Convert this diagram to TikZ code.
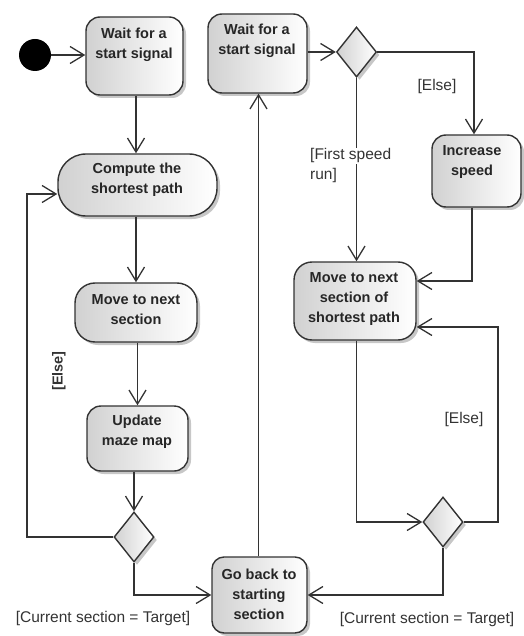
\documentclass[tikz,border=0pt]{standalone}
\usepackage{fontspec}
\setmainfont{Liberation Sans}
\usetikzlibrary{arrows.meta,shapes.geometric,shadows}
\tikzset{
  box/.style={draw=black!80, line width=1.4pt, left color=black!18, right color=white,
    drop shadow={shadow xshift=3pt, shadow yshift=-3pt, fill=black!40, opacity=0.55},
    inner sep=0pt},
  dec/.style={box, diamond, minimum width=40pt, minimum height=50pt},
  btxt/.style={font=\bfseries\fontsize{14.5}{20}\selectfont, align=center, inner sep=0pt, text=black!85},
  lbl/.style={font=\fontsize{15.5}{20}\selectfont, inner sep=0pt, text=black!80},
  arr/.style={draw=black!80, line width=1.4pt, -{Straight Barb[length=14pt,width=17pt,line width=1.3pt]}},
  ln/.style={draw=black!80, line width=1.4pt}
}
\begin{document}
\begin{tikzpicture}[x=1pt,y=-1pt]
\useasboundingbox (0,0) rectangle (523,636);
% initial node
\node[circle, fill=black, minimum size=32pt, inner sep=0pt] (init) at (35,55) {};
% left column
\node[box, rounded corners=14pt, minimum width=97pt, minimum height=78pt] (w1) at (134.5,56) {};
\node[btxt] (w1t) at (134,45) {Wait for a\\start signal};
\node[box, rounded corners=28pt, minimum width=159pt, minimum height=62pt] (cp) at (137.5,185) {};
\node[btxt] (cpt) at (137,180) {Compute the\\shortest path};
\node[box, rounded corners=20pt, minimum width=122pt, minimum height=59pt] (mv) at (136,312.5) {};
\node[btxt] (mvt) at (136,310) {Move to next\\section};
\node[box, rounded corners=14pt, minimum width=101pt, minimum height=65pt] (up) at (137.5,438.5) {};
\node[btxt] (upt) at (137,432) {Update\\maze map};
\node[dec] (d1) at (134,537) {};
% middle
\node[box, rounded corners=12pt, minimum width=95pt, minimum height=76pt] (gb) at (259.5,595) {};
\node[btxt] (gbt) at (259,594) {Go back to\\starting\\section};
\node[box, rounded corners=14pt, minimum width=99pt, minimum height=79pt] (w2) at (257.5,53.5) {};
\node[btxt] (w2t) at (257,41) {Wait for a\\start signal};
\node[dec] (d2) at (356.5,52) {};
% right
\node[box, rounded corners=14pt, minimum width=89pt, minimum height=72pt] (inc) at (476.5,171) {};
\node[btxt] (inct) at (472,162) {Increase\\speed};
\node[box, rounded corners=18pt, minimum width=122pt, minimum height=78pt] (mn) at (355,301) {};
\node[btxt] (mnt) at (354,299) {Move to next\\section of\\shortest path};
\node[dec] (d3) at (443,522) {};
% connectors
\draw[arr] (init) -- (w1.west |- init);
\draw[arr] (w1.south -| 136,0) -- (136,0 |- cp.north);
\draw[arr] (mv.north |- cp.south) -- (mv.north);
\draw[arr] (up.north |- mv.south) -- (up.north);
\draw[arr] (d1.north |- up.south) -- (d1.north);
\coordinate (elseL) at (27,194);
\draw[arr] (d1.west) -| (elseL) -- (cp.west |- elseL);
\draw[arr] (d1.south) |- (gb.west);
\draw[arr] (gb.north -| 258.5,0) -- (258.5,0 |- w2.south);
\draw[arr] (w2.east |- d2) -- (d2.west);
\coordinate (elseR) at (474,52);
\draw[arr] (d2.east) -- (elseR) -- (elseR |- inc.north);
\draw[arr] (d2.south) -- (d2.south |- mn.north);
\coordinate (incB) at (472,281);
\draw[arr] (incB |- inc.south) -- (incB) -- (mn.east |- incB);
\draw[arr] (mn.south -| d2.south) |- (d3.west);
\coordinate (loopR) at (498,327);
\draw[arr] (d3.east) -| (loopR) -- (mn.east |- loopR);
\draw[arr] (d3.south) |- (gb.east);
% labels
\node[lbl, font=\bfseries\fontsize{14.5}{20}\selectfont, rotate=90] (lelse1) at (59,371) {[Else]};
\node[lbl] (lelse2) at (437,86) {[Else]};
\node[lbl, anchor=base west, fill=white, inner ysep=1pt] (lfirst) at (310,160) {[First speed};
\node[lbl, anchor=base west] (lrun) at (310,180) {run]};
\node[lbl] (lelse3) at (464,419) {[Else]};
\node[lbl] (lcur1) at (103,618) {[Current section = Target]};
\node[lbl] (lcur2) at (427,619) {[Current section = Target]};
\end{tikzpicture}
\end{document}
